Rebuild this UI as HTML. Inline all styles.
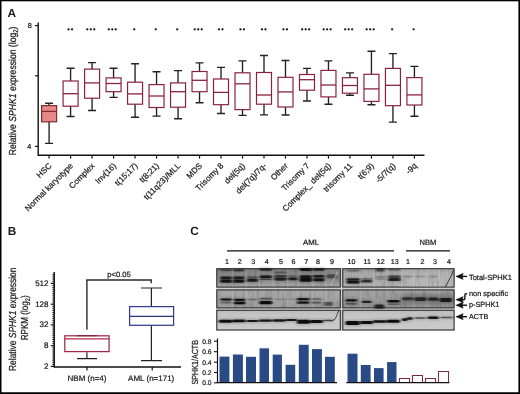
<!DOCTYPE html>
<html><head><meta charset="utf-8"><style>
html,body{margin:0;padding:0;background:#fff;}
body{width:520px;height:394px;overflow:hidden;position:relative;}
svg{position:absolute;left:0;top:0;will-change:transform;}
svg text{font-family:"Liberation Sans", sans-serif;text-rendering:geometricPrecision;fill:#1a1a1a;stroke:#1a1a1a;stroke-width:0.22px;}
</style></head><body>
<svg width="520" height="394" viewBox="0 0 520 394">
<rect x="0" y="0" width="520" height="394" fill="#fff"/>
<text x="7.5" y="16.9" font-size="11.8" font-weight="bold" style="stroke-width:0">A</text>
<text x="7.7" y="235.1" font-size="11.8" font-weight="bold" style="stroke-width:0">B</text>
<text x="190.2" y="235" font-size="11.8" font-weight="bold" style="stroke-width:0">C</text>
<path d="M38.2 22.5V155.3H424.5" fill="none" stroke="#111" stroke-width="1.4"/>
<path d="M35 25.6H38.2" stroke="#111" stroke-width="1.2"/>
<path d="M35 75.8H38.2" stroke="#111" stroke-width="1.2"/>
<path d="M35 146.4H38.2" stroke="#111" stroke-width="1.2"/>
<text x="31.7" y="28.2" font-size="7.2" text-anchor="end">8</text>
<text x="31.3" y="148.9" font-size="7.2" text-anchor="end">4</text>
<path d="M49.10 155.3V158.6" stroke="#111" stroke-width="1.2"/>
<path d="M49.10 103.2V105.6M49.10 121.8V143.4M45.10 103.2H53.10M45.10 143.4H53.10" stroke="#222" stroke-width="1.35" fill="none"/>
<rect x="41.60" y="105.6" width="15.0" height="16.20" fill="#e58a88" stroke="#862a2c" stroke-width="1.2"/>
<path d="M41.60 111.4H56.60" stroke="#862a2c" stroke-width="1.3"/>
<text transform="translate(52.10,166.3) rotate(-45)" font-size="8.2" text-anchor="end">HSC</text>
<path d="M70.59 155.3V158.6" stroke="#111" stroke-width="1.2"/>
<path d="M70.59 68.2V81M70.59 106.2V116.5M66.59 68.2H74.59M66.59 116.5H74.59" stroke="#222" stroke-width="1.35" fill="none"/>
<rect x="63.09" y="81" width="15.0" height="25.20" fill="none" stroke="#88223f" stroke-width="1.2"/>
<path d="M63.09 93.7H78.09" stroke="#88223f" stroke-width="1.3"/>
<circle cx="68.54" cy="29.3" r="1.15" fill="#111"/>
<circle cx="72.04" cy="29.3" r="1.15" fill="#111"/>
<text transform="translate(73.59,166.3) rotate(-45)" font-size="8.2" text-anchor="end">Normal karyotype</text>
<path d="M92.08 155.3V158.6" stroke="#111" stroke-width="1.2"/>
<path d="M92.08 62.6V69.1M92.08 98.2V110.5M88.08 62.6H96.08M88.08 110.5H96.08" stroke="#222" stroke-width="1.35" fill="none"/>
<rect x="84.58" y="69.1" width="15.0" height="29.10" fill="none" stroke="#88223f" stroke-width="1.2"/>
<path d="M84.58 82.9H99.58" stroke="#88223f" stroke-width="1.3"/>
<circle cx="87.28" cy="29.3" r="1.15" fill="#111"/>
<circle cx="90.78" cy="29.3" r="1.15" fill="#111"/>
<circle cx="94.28" cy="29.3" r="1.15" fill="#111"/>
<text transform="translate(95.08,166.3) rotate(-45)" font-size="8.2" text-anchor="end">Complex</text>
<path d="M113.57 155.3V158.6" stroke="#111" stroke-width="1.2"/>
<path d="M113.57 68.2V77.9M113.57 91.7V97.3M109.57 68.2H117.57M109.57 97.3H117.57" stroke="#222" stroke-width="1.35" fill="none"/>
<rect x="106.07" y="77.9" width="15.0" height="13.80" fill="none" stroke="#88223f" stroke-width="1.2"/>
<path d="M106.07 83.5H121.07" stroke="#88223f" stroke-width="1.3"/>
<circle cx="108.77" cy="29.3" r="1.15" fill="#111"/>
<circle cx="112.27" cy="29.3" r="1.15" fill="#111"/>
<circle cx="115.77" cy="29.3" r="1.15" fill="#111"/>
<text transform="translate(116.57,166.3) rotate(-45)" font-size="8.2" text-anchor="end">Inv(16)</text>
<path d="M135.06 155.3V158.6" stroke="#111" stroke-width="1.2"/>
<path d="M135.06 63.7V82.2M135.06 104.2V117.2M131.06 63.7H139.06M131.06 117.2H139.06" stroke="#222" stroke-width="1.35" fill="none"/>
<rect x="127.56" y="82.2" width="15.0" height="22.00" fill="none" stroke="#88223f" stroke-width="1.2"/>
<path d="M127.56 93.9H142.56" stroke="#88223f" stroke-width="1.3"/>
<circle cx="134.26" cy="29.3" r="1.15" fill="#111"/>
<text transform="translate(138.06,166.3) rotate(-45)" font-size="8.2" text-anchor="end">t(15;17)</text>
<path d="M156.55 155.3V158.6" stroke="#111" stroke-width="1.2"/>
<path d="M156.55 71.7V84.6M156.55 107.5V116.1M152.55 71.7H160.55M152.55 116.1H160.55" stroke="#222" stroke-width="1.35" fill="none"/>
<rect x="149.05" y="84.6" width="15.0" height="22.90" fill="none" stroke="#88223f" stroke-width="1.2"/>
<path d="M149.05 96H164.05" stroke="#88223f" stroke-width="1.3"/>
<circle cx="155.75" cy="29.3" r="1.15" fill="#111"/>
<text transform="translate(159.55,166.3) rotate(-45)" font-size="8.2" text-anchor="end">t(8;21)</text>
<path d="M178.04 155.3V158.6" stroke="#111" stroke-width="1.2"/>
<path d="M178.04 70.6V82.9M178.04 107.2V118.7M174.04 70.6H182.04M174.04 118.7H182.04" stroke="#222" stroke-width="1.35" fill="none"/>
<rect x="170.54" y="82.9" width="15.0" height="24.30" fill="none" stroke="#88223f" stroke-width="1.2"/>
<path d="M170.54 91.7H185.54" stroke="#88223f" stroke-width="1.3"/>
<circle cx="177.24" cy="29.3" r="1.15" fill="#111"/>
<text transform="translate(181.04,166.3) rotate(-45)" font-size="8.2" text-anchor="end">t(11q23)/MLL</text>
<path d="M199.53 155.3V158.6" stroke="#111" stroke-width="1.2"/>
<path d="M199.53 62.8V71.5M199.53 91.7V102.7M195.53 62.8H203.53M195.53 102.7H203.53" stroke="#222" stroke-width="1.35" fill="none"/>
<rect x="192.03" y="71.5" width="15.0" height="20.20" fill="none" stroke="#88223f" stroke-width="1.2"/>
<path d="M192.03 80.3H207.03" stroke="#88223f" stroke-width="1.3"/>
<circle cx="194.73" cy="29.3" r="1.15" fill="#111"/>
<circle cx="198.23" cy="29.3" r="1.15" fill="#111"/>
<circle cx="201.73" cy="29.3" r="1.15" fill="#111"/>
<text transform="translate(202.53,166.3) rotate(-45)" font-size="8.2" text-anchor="end">MDS</text>
<path d="M221.02 155.3V158.6" stroke="#111" stroke-width="1.2"/>
<path d="M221.02 67.4V79M221.02 104.7V113.5M217.02 67.4H225.02M217.02 113.5H225.02" stroke="#222" stroke-width="1.35" fill="none"/>
<rect x="213.52" y="79" width="15.0" height="25.70" fill="none" stroke="#88223f" stroke-width="1.2"/>
<path d="M213.52 92.4H228.52" stroke="#88223f" stroke-width="1.3"/>
<circle cx="218.97" cy="29.3" r="1.15" fill="#111"/>
<circle cx="222.47" cy="29.3" r="1.15" fill="#111"/>
<text transform="translate(224.02,166.3) rotate(-45)" font-size="8.2" text-anchor="end">Trisomy 8</text>
<path d="M242.51 155.3V158.6" stroke="#111" stroke-width="1.2"/>
<path d="M242.51 60.9V72.8M242.51 109.6V115.4M238.51 60.9H246.51M238.51 115.4H246.51" stroke="#222" stroke-width="1.35" fill="none"/>
<rect x="235.01" y="72.8" width="15.0" height="36.80" fill="none" stroke="#88223f" stroke-width="1.2"/>
<path d="M235.01 83.8H250.01" stroke="#88223f" stroke-width="1.3"/>
<circle cx="240.46" cy="29.3" r="1.15" fill="#111"/>
<circle cx="243.96" cy="29.3" r="1.15" fill="#111"/>
<text transform="translate(245.51,166.3) rotate(-45)" font-size="8.2" text-anchor="end">del(5q)</text>
<path d="M264.00 155.3V158.6" stroke="#111" stroke-width="1.2"/>
<path d="M264.00 55.5V72.5M264.00 104.2V114.8M260.00 55.5H268.00M260.00 114.8H268.00" stroke="#222" stroke-width="1.35" fill="none"/>
<rect x="256.50" y="72.5" width="15.0" height="31.70" fill="none" stroke="#88223f" stroke-width="1.2"/>
<path d="M256.50 95H271.50" stroke="#88223f" stroke-width="1.3"/>
<circle cx="261.95" cy="29.3" r="1.15" fill="#111"/>
<circle cx="265.45" cy="29.3" r="1.15" fill="#111"/>
<text transform="translate(267.00,166.3) rotate(-45)" font-size="8.2" text-anchor="end">del(7q)/7q-</text>
<path d="M285.49 155.3V158.6" stroke="#111" stroke-width="1.2"/>
<path d="M285.49 60.5V77.3M285.49 107V115M281.49 60.5H289.49M281.49 115H289.49" stroke="#222" stroke-width="1.35" fill="none"/>
<rect x="277.99" y="77.3" width="15.0" height="29.70" fill="none" stroke="#88223f" stroke-width="1.2"/>
<path d="M277.99 91.9H292.99" stroke="#88223f" stroke-width="1.3"/>
<circle cx="283.44" cy="29.3" r="1.15" fill="#111"/>
<circle cx="286.94" cy="29.3" r="1.15" fill="#111"/>
<text transform="translate(288.49,166.3) rotate(-45)" font-size="8.2" text-anchor="end">Other</text>
<path d="M306.98 155.3V158.6" stroke="#111" stroke-width="1.2"/>
<path d="M306.98 68.4V74.5M306.98 90.2V101M302.98 68.4H310.98M302.98 101H310.98" stroke="#222" stroke-width="1.35" fill="none"/>
<rect x="299.48" y="74.5" width="15.0" height="15.70" fill="none" stroke="#88223f" stroke-width="1.2"/>
<path d="M299.48 79.7H314.48" stroke="#88223f" stroke-width="1.3"/>
<circle cx="302.18" cy="29.3" r="1.15" fill="#111"/>
<circle cx="305.68" cy="29.3" r="1.15" fill="#111"/>
<circle cx="309.18" cy="29.3" r="1.15" fill="#111"/>
<text transform="translate(309.98,166.3) rotate(-45)" font-size="8.2" text-anchor="end">Trisomy 7</text>
<path d="M328.47 155.3V158.6" stroke="#111" stroke-width="1.2"/>
<path d="M328.47 60.9V70.4M328.47 96.9V104.2M324.47 60.9H332.47M324.47 104.2H332.47" stroke="#222" stroke-width="1.35" fill="none"/>
<rect x="320.97" y="70.4" width="15.0" height="26.50" fill="none" stroke="#88223f" stroke-width="1.2"/>
<path d="M320.97 85H335.97" stroke="#88223f" stroke-width="1.3"/>
<circle cx="323.67" cy="29.3" r="1.15" fill="#111"/>
<circle cx="327.17" cy="29.3" r="1.15" fill="#111"/>
<circle cx="330.67" cy="29.3" r="1.15" fill="#111"/>
<text transform="translate(331.47,166.3) rotate(-45)" font-size="8.2" text-anchor="end">Complex_ del(5q)</text>
<path d="M349.96 155.3V158.6" stroke="#111" stroke-width="1.2"/>
<path d="M349.96 72.8V77.7M349.96 93.2V95.2M345.96 72.8H353.96M345.96 95.2H353.96" stroke="#222" stroke-width="1.35" fill="none"/>
<rect x="342.46" y="77.7" width="15.0" height="15.50" fill="none" stroke="#88223f" stroke-width="1.2"/>
<path d="M342.46 85.5H357.46" stroke="#88223f" stroke-width="1.3"/>
<circle cx="345.16" cy="29.3" r="1.15" fill="#111"/>
<circle cx="348.66" cy="29.3" r="1.15" fill="#111"/>
<circle cx="352.16" cy="29.3" r="1.15" fill="#111"/>
<text transform="translate(352.96,166.3) rotate(-45)" font-size="8.2" text-anchor="end">trisomy 11</text>
<path d="M371.45 155.3V158.6" stroke="#111" stroke-width="1.2"/>
<path d="M371.45 51.2V74.3M371.45 101.4V104.7M367.45 51.2H375.45M367.45 104.7H375.45" stroke="#222" stroke-width="1.35" fill="none"/>
<rect x="363.95" y="74.3" width="15.0" height="27.10" fill="none" stroke="#88223f" stroke-width="1.2"/>
<path d="M363.95 88.9H378.95" stroke="#88223f" stroke-width="1.3"/>
<circle cx="366.65" cy="29.3" r="1.15" fill="#111"/>
<circle cx="370.15" cy="29.3" r="1.15" fill="#111"/>
<circle cx="373.65" cy="29.3" r="1.15" fill="#111"/>
<text transform="translate(374.45,166.3) rotate(-45)" font-size="8.2" text-anchor="end">t(6;9)</text>
<path d="M392.94 155.3V158.6" stroke="#111" stroke-width="1.2"/>
<path d="M392.94 53.6V68.4M392.94 105.7V122.1M388.94 53.6H396.94M388.94 122.1H396.94" stroke="#222" stroke-width="1.35" fill="none"/>
<rect x="385.44" y="68.4" width="15.0" height="37.30" fill="none" stroke="#88223f" stroke-width="1.2"/>
<path d="M385.44 85.3H400.44" stroke="#88223f" stroke-width="1.3"/>
<circle cx="392.14" cy="29.3" r="1.15" fill="#111"/>
<text transform="translate(395.94,166.3) rotate(-45)" font-size="8.2" text-anchor="end">-5/7(q)</text>
<path d="M414.43 155.3V158.6" stroke="#111" stroke-width="1.2"/>
<path d="M414.43 66.3V77.6M414.43 105V116.2M410.43 66.3H418.43M410.43 116.2H418.43" stroke="#222" stroke-width="1.35" fill="none"/>
<rect x="406.93" y="77.6" width="15.0" height="27.40" fill="none" stroke="#88223f" stroke-width="1.2"/>
<path d="M406.93 94.9H421.93" stroke="#88223f" stroke-width="1.3"/>
<circle cx="413.63" cy="29.3" r="1.15" fill="#111"/>
<text transform="translate(417.43,166.3) rotate(-45)" font-size="8.2" text-anchor="end">-9q</text>
<text transform="translate(15.8,155.2) rotate(-90)" font-size="10.2" textLength="128.6" lengthAdjust="spacingAndGlyphs">Relative <tspan font-style="italic">SPHK1</tspan> expression (log<tspan font-size="7" dy="2">2</tspan><tspan dy="-2">)</tspan></text>
<path d="M54.2 272V367H181" fill="none" stroke="#111" stroke-width="1.5"/>
<path d="M52.3 285.48H54.3" stroke="#111" stroke-width="0.9"/>
<path d="M52.3 287.56H54.3" stroke="#111" stroke-width="0.9"/>
<path d="M52.3 289.64H54.3" stroke="#111" stroke-width="0.9"/>
<path d="M52.3 291.72H54.3" stroke="#111" stroke-width="0.9"/>
<path d="M52.3 293.80H54.3" stroke="#111" stroke-width="0.9"/>
<path d="M52.3 295.88H54.3" stroke="#111" stroke-width="0.9"/>
<path d="M52.3 297.96H54.3" stroke="#111" stroke-width="0.9"/>
<path d="M52.3 300.04H54.3" stroke="#111" stroke-width="0.9"/>
<path d="M52.3 302.12H54.3" stroke="#111" stroke-width="0.9"/>
<path d="M52.3 306.27H54.3" stroke="#111" stroke-width="0.9"/>
<path d="M52.3 308.34H54.3" stroke="#111" stroke-width="0.9"/>
<path d="M52.3 310.41H54.3" stroke="#111" stroke-width="0.9"/>
<path d="M52.3 312.48H54.3" stroke="#111" stroke-width="0.9"/>
<path d="M52.3 314.55H54.3" stroke="#111" stroke-width="0.9"/>
<path d="M52.3 316.62H54.3" stroke="#111" stroke-width="0.9"/>
<path d="M52.3 318.69H54.3" stroke="#111" stroke-width="0.9"/>
<path d="M52.3 320.76H54.3" stroke="#111" stroke-width="0.9"/>
<path d="M52.3 322.83H54.3" stroke="#111" stroke-width="0.9"/>
<path d="M52.3 326.98H54.3" stroke="#111" stroke-width="0.9"/>
<path d="M52.3 329.06H54.3" stroke="#111" stroke-width="0.9"/>
<path d="M52.3 331.14H54.3" stroke="#111" stroke-width="0.9"/>
<path d="M52.3 333.22H54.3" stroke="#111" stroke-width="0.9"/>
<path d="M52.3 335.30H54.3" stroke="#111" stroke-width="0.9"/>
<path d="M52.3 337.38H54.3" stroke="#111" stroke-width="0.9"/>
<path d="M52.3 339.46H54.3" stroke="#111" stroke-width="0.9"/>
<path d="M52.3 341.54H54.3" stroke="#111" stroke-width="0.9"/>
<path d="M52.3 343.62H54.3" stroke="#111" stroke-width="0.9"/>
<path d="M52.3 347.77H54.3" stroke="#111" stroke-width="0.9"/>
<path d="M52.3 349.84H54.3" stroke="#111" stroke-width="0.9"/>
<path d="M52.3 351.91H54.3" stroke="#111" stroke-width="0.9"/>
<path d="M52.3 353.98H54.3" stroke="#111" stroke-width="0.9"/>
<path d="M52.3 356.05H54.3" stroke="#111" stroke-width="0.9"/>
<path d="M52.3 358.12H54.3" stroke="#111" stroke-width="0.9"/>
<path d="M52.3 360.19H54.3" stroke="#111" stroke-width="0.9"/>
<path d="M52.3 362.26H54.3" stroke="#111" stroke-width="0.9"/>
<path d="M52.3 364.33H54.3" stroke="#111" stroke-width="0.9"/>
<path d="M52.3 274.68H54.3" stroke="#111" stroke-width="0.9"/>
<path d="M52.3 276.86H54.3" stroke="#111" stroke-width="0.9"/>
<path d="M52.3 279.04H54.3" stroke="#111" stroke-width="0.9"/>
<path d="M52.3 281.22H54.3" stroke="#111" stroke-width="0.9"/>
<path d="M50.8 283.4H54.3" stroke="#111" stroke-width="1.2"/>
<text x="48.5" y="285.8" font-size="8" text-anchor="end">512</text>
<path d="M50.8 304.2H54.3" stroke="#111" stroke-width="1.2"/>
<text x="48.5" y="306.6" font-size="8" text-anchor="end">128</text>
<path d="M50.8 324.9H54.3" stroke="#111" stroke-width="1.2"/>
<text x="48.5" y="327.3" font-size="8" text-anchor="end">32</text>
<path d="M50.8 345.7H54.3" stroke="#111" stroke-width="1.2"/>
<text x="48.5" y="348.1" font-size="8" text-anchor="end">8</text>
<path d="M50.8 366.4H54.3" stroke="#111" stroke-width="1.2"/>
<text x="48.5" y="368.8" font-size="8" text-anchor="end">2</text>
<path d="M87 367V370.5" stroke="#111" stroke-width="1.2"/>
<path d="M152.2 367V370.5" stroke="#111" stroke-width="1.2"/>
<text x="87" y="381.3" font-size="8" text-anchor="middle">NBM (n=4)</text>
<text x="151.2" y="381.3" font-size="8" text-anchor="middle">AML (n=171)</text>
<path d="M86.9 335.6V336.2M86.9 352.3V358.6M77 358.6H97M77 335.6H97" stroke="#222" stroke-width="1.2"/>
<rect x="64.8" y="335.8" width="44.3" height="15.8" fill="none" stroke="#a02846" stroke-width="1.25"/>
<path d="M64.8 338.9H109.1" stroke="#b02a48" stroke-width="1.4"/>
<path d="M151.4 288V306.6M151.4 325.3V360.7M141 288H162M141 360.7H162" stroke="#222" stroke-width="1.2"/>
<rect x="129.6" y="306.6" width="44" height="18.7" fill="none" stroke="#2f3f8c" stroke-width="1.25"/>
<path d="M129.6 316.4H173.6" stroke="#2a3478" stroke-width="1.4"/>
<path d="M86.9 329.8V280H151.2V283.2" fill="none" stroke="#2a2a2a" stroke-width="1.4"/>
<text x="119.1" y="276.6" font-size="7.6" text-anchor="middle">p&lt;0.05</text>
<text transform="translate(15.6,371) rotate(-90)" font-size="10.2" textLength="103.5" lengthAdjust="spacingAndGlyphs">Relative <tspan font-style="italic">SPHK1</tspan> expression</text>
<text transform="translate(27.8,340.3) rotate(-90)" font-size="10.2" textLength="45" lengthAdjust="spacingAndGlyphs">RPKM (log<tspan font-size="7" dy="2">2</tspan><tspan dy="-2">)</tspan></text>
<text x="311" y="244.5" font-size="7.8" text-anchor="middle">AML</text>
<text x="428" y="244.5" font-size="7.6" text-anchor="middle">NBM</text>
<path d="M227 250.9H394M406 250.9H450" stroke="#111" stroke-width="1.1"/>
<text x="227" y="264.4" font-size="7.1" text-anchor="middle">1</text>
<text x="239.8" y="264.4" font-size="7.1" text-anchor="middle">2</text>
<text x="253.3" y="264.4" font-size="7.1" text-anchor="middle">3</text>
<text x="266.8" y="264.4" font-size="7.1" text-anchor="middle">4</text>
<text x="281.1" y="264.4" font-size="7.1" text-anchor="middle">5</text>
<text x="293.5" y="264.4" font-size="7.1" text-anchor="middle">6</text>
<text x="306.2" y="264.4" font-size="7.1" text-anchor="middle">7</text>
<text x="318" y="264.4" font-size="7.1" text-anchor="middle">8</text>
<text x="332.1" y="264.4" font-size="7.1" text-anchor="middle">9</text>
<text x="351.5" y="264.4" font-size="7.1" text-anchor="middle">10</text>
<text x="367.3" y="264.4" font-size="7.1" text-anchor="middle">11</text>
<text x="380.7" y="264.4" font-size="7.1" text-anchor="middle">12</text>
<text x="394.8" y="264.4" font-size="7.1" text-anchor="middle">13</text>
<text x="407.9" y="264.4" font-size="7.1" text-anchor="middle">1</text>
<text x="422.6" y="264.4" font-size="7.1" text-anchor="middle">2</text>
<text x="435" y="264.4" font-size="7.1" text-anchor="middle">3</text>
<text x="448.9" y="264.4" font-size="7.1" text-anchor="middle">4</text>
<defs><filter id="bl" x="-20%" y="-100%" width="140%" height="300%"><feGaussianBlur stdDeviation="1.1 0.75"/></filter><filter id="bl2" x="-20%" y="-100%" width="140%" height="300%"><feGaussianBlur stdDeviation="1.6 1.2"/></filter><linearGradient id="g1" x1="0" y1="0" x2="0" y2="1"><stop offset="0" stop-color="#7e7e7e"/><stop offset="0.2" stop-color="#939393"/><stop offset="0.8" stop-color="#9c9c9c"/><stop offset="1" stop-color="#a6a6a6"/></linearGradient><linearGradient id="g1b" x1="0" y1="0" x2="0" y2="1"><stop offset="0" stop-color="#9a9a9a"/><stop offset="0.3" stop-color="#acacac"/><stop offset="1" stop-color="#b0b0b0"/></linearGradient><linearGradient id="g2" x1="0" y1="0" x2="0" y2="1"><stop offset="0" stop-color="#a8a8a8"/><stop offset="0.3" stop-color="#a6a6a6"/><stop offset="1" stop-color="#9c9c9c"/></linearGradient><linearGradient id="g2b" x1="0" y1="0" x2="0" y2="1"><stop offset="0" stop-color="#a2a2a2"/><stop offset="1" stop-color="#929292"/></linearGradient><linearGradient id="g3" x1="0" y1="0" x2="0" y2="1"><stop offset="0" stop-color="#bcbcbc"/><stop offset="0.3" stop-color="#c6c6c6"/><stop offset="1" stop-color="#cacaca"/></linearGradient></defs>
<rect x="216.3" y="268.2" width="238.3" height="62.3" fill="#d0d0d0"/>
<rect x="216.8" y="268.7" width="123.5" height="18.4" fill="url(#g1)" stroke="#2e2e2e" stroke-width="1.1"/>
<rect x="216.8" y="289.9" width="123.5" height="18.0" fill="url(#g2)" stroke="#2e2e2e" stroke-width="1.1"/>
<rect x="216.8" y="310.3" width="123.5" height="19.7" fill="url(#g3)" stroke="#2e2e2e" stroke-width="1.1"/>
<rect x="342.8" y="268.7" width="111.3" height="18.4" fill="url(#g1b)" stroke="#2e2e2e" stroke-width="1.1"/>
<rect x="342.8" y="289.9" width="111.3" height="18.0" fill="url(#g2b)" stroke="#2e2e2e" stroke-width="1.1"/>
<rect x="342.8" y="310.3" width="111.3" height="19.7" fill="url(#g3)" stroke="#2e2e2e" stroke-width="1.1"/>
<filter id="nz" x="0" y="0" width="100%" height="100%"><feTurbulence type="fractalNoise" baseFrequency="0.35 0.08" numOctaves="2" seed="7"/><feColorMatrix type="matrix" values="0 0 0 0 0  0 0 0 0 0  0 0 0 0 0  0 0 0 -1.6 0.85"/></filter>
<g opacity="0.22">
<rect x="217.5" y="269.4" width="122.1" height="17.0" filter="url(#nz)"/>
<rect x="217.5" y="290.59999999999997" width="122.1" height="16.6" filter="url(#nz)"/>
<rect x="343.5" y="269.4" width="109.9" height="17.0" filter="url(#nz)"/>
<rect x="343.5" y="290.59999999999997" width="109.9" height="16.6" filter="url(#nz)"/>
</g>
<rect x="231.9" y="269.5" width="1.2" height="17.5" fill="#fff" fill-opacity="0.16"/>
<rect x="231.9" y="290.5" width="1.2" height="17" fill="#fff" fill-opacity="0.12"/>
<rect x="245.4" y="269.5" width="1.2" height="17.5" fill="#fff" fill-opacity="0.16"/>
<rect x="245.4" y="290.5" width="1.2" height="17" fill="#fff" fill-opacity="0.12"/>
<rect x="258.4" y="269.5" width="1.2" height="17.5" fill="#fff" fill-opacity="0.16"/>
<rect x="258.4" y="290.5" width="1.2" height="17" fill="#fff" fill-opacity="0.12"/>
<rect x="272.4" y="269.5" width="1.2" height="17.5" fill="#fff" fill-opacity="0.16"/>
<rect x="272.4" y="290.5" width="1.2" height="17" fill="#fff" fill-opacity="0.12"/>
<rect x="286.9" y="269.5" width="1.2" height="17.5" fill="#fff" fill-opacity="0.16"/>
<rect x="286.9" y="290.5" width="1.2" height="17" fill="#fff" fill-opacity="0.12"/>
<rect x="298.4" y="269.5" width="1.2" height="17.5" fill="#fff" fill-opacity="0.16"/>
<rect x="298.4" y="290.5" width="1.2" height="17" fill="#fff" fill-opacity="0.12"/>
<rect x="311.9" y="269.5" width="1.2" height="17.5" fill="#fff" fill-opacity="0.16"/>
<rect x="311.9" y="290.5" width="1.2" height="17" fill="#fff" fill-opacity="0.12"/>
<rect x="324.9" y="269.5" width="1.2" height="17.5" fill="#fff" fill-opacity="0.16"/>
<rect x="324.9" y="290.5" width="1.2" height="17" fill="#fff" fill-opacity="0.12"/>
<rect x="359.9" y="269.5" width="1.2" height="17.5" fill="#fff" fill-opacity="0.16"/>
<rect x="359.9" y="290.5" width="1.2" height="17" fill="#fff" fill-opacity="0.12"/>
<rect x="373.4" y="269.5" width="1.2" height="17.5" fill="#fff" fill-opacity="0.16"/>
<rect x="373.4" y="290.5" width="1.2" height="17" fill="#fff" fill-opacity="0.12"/>
<rect x="386.4" y="269.5" width="1.2" height="17.5" fill="#fff" fill-opacity="0.16"/>
<rect x="386.4" y="290.5" width="1.2" height="17" fill="#fff" fill-opacity="0.12"/>
<rect x="400.9" y="269.5" width="1.2" height="17.5" fill="#fff" fill-opacity="0.16"/>
<rect x="400.9" y="290.5" width="1.2" height="17" fill="#fff" fill-opacity="0.12"/>
<rect x="413.4" y="269.5" width="1.2" height="17.5" fill="#fff" fill-opacity="0.16"/>
<rect x="413.4" y="290.5" width="1.2" height="17" fill="#fff" fill-opacity="0.12"/>
<rect x="426.4" y="269.5" width="1.2" height="17.5" fill="#fff" fill-opacity="0.16"/>
<rect x="426.4" y="290.5" width="1.2" height="17" fill="#fff" fill-opacity="0.12"/>
<rect x="438.9" y="269.5" width="1.2" height="17.5" fill="#fff" fill-opacity="0.16"/>
<rect x="438.9" y="290.5" width="1.2" height="17" fill="#fff" fill-opacity="0.12"/>
<rect x="401" y="269" width="52.5" height="18" fill="#fff" fill-opacity="0.1"/>
<g filter="url(#bl2)">
<rect x="402" y="293.5" width="50" height="11" fill="#333" fill-opacity="0.25"/>
<rect x="218" y="270" width="120" height="12" fill="#333" fill-opacity="0.12"/>
<rect x="220.2" y="268.70" width="11.7" height="3.20" fill="#202020" fill-opacity="0.11"/>
<rect x="220.2" y="275.80" width="11.7" height="4.20" fill="#202020" fill-opacity="0.21"/>
<rect x="220.2" y="278.80" width="11.7" height="4.60" fill="#202020" fill-opacity="0.24"/>
<rect x="233.2" y="268.55" width="11.2" height="3.50" fill="#202020" fill-opacity="0.17"/>
<rect x="233.2" y="275.80" width="11.2" height="4.20" fill="#202020" fill-opacity="0.21"/>
<rect x="233.2" y="278.80" width="11.2" height="4.60" fill="#202020" fill-opacity="0.24"/>
<rect x="247.0" y="275.40" width="10.8" height="3.60" fill="#202020" fill-opacity="0.09"/>
<rect x="247.0" y="278.00" width="10.8" height="4.60" fill="#202020" fill-opacity="0.23"/>
<rect x="259.7" y="267.50" width="12.1" height="4.00" fill="#202020" fill-opacity="0.19"/>
<rect x="259.7" y="274.70" width="12.1" height="4.20" fill="#202020" fill-opacity="0.23"/>
<rect x="259.7" y="277.55" width="12.1" height="3.30" fill="#202020" fill-opacity="0.11"/>
<rect x="274.4" y="270.75" width="12.1" height="3.50" fill="#202020" fill-opacity="0.07"/>
<rect x="274.4" y="274.30" width="12.1" height="3.80" fill="#202020" fill-opacity="0.15"/>
<rect x="274.4" y="276.80" width="12.1" height="4.40" fill="#202020" fill-opacity="0.21"/>
<rect x="288.3" y="274.35" width="8.7" height="3.30" fill="#202020" fill-opacity="0.07"/>
<rect x="288.3" y="276.65" width="9.2" height="4.30" fill="#202020" fill-opacity="0.21"/>
<rect x="299.7" y="267.25" width="12.1" height="4.50" fill="#202020" fill-opacity="0.23"/>
<rect x="299.7" y="274.55" width="12.1" height="4.50" fill="#202020" fill-opacity="0.23"/>
<rect x="299.7" y="277.10" width="12.1" height="5.40" fill="#202020" fill-opacity="0.25"/>
<rect x="313.1" y="267.40" width="11.3" height="4.20" fill="#202020" fill-opacity="0.21"/>
<rect x="313.1" y="274.30" width="11.3" height="4.00" fill="#202020" fill-opacity="0.21"/>
<rect x="313.1" y="277.45" width="11.3" height="4.50" fill="#202020" fill-opacity="0.24"/>
<rect x="326.5" y="273.75" width="10.0" height="3.50" fill="#202020" fill-opacity="0.12"/>
<rect x="326.5" y="275.65" width="10.0" height="3.50" fill="#202020" fill-opacity="0.12"/>
<rect x="346.6" y="269.20" width="13.0" height="3.20" fill="#202020" fill-opacity="0.07"/>
<rect x="346.6" y="277.40" width="13.0" height="4.00" fill="#202020" fill-opacity="0.21"/>
<rect x="346.6" y="279.75" width="13.0" height="4.50" fill="#202020" fill-opacity="0.24"/>
<rect x="361.3" y="277.30" width="10.8" height="3.40" fill="#202020" fill-opacity="0.09"/>
<rect x="361.3" y="279.20" width="10.8" height="4.00" fill="#202020" fill-opacity="0.19"/>
<rect x="376.0" y="267.60" width="8.5" height="4.60" fill="#202020" fill-opacity="0.15"/>
<rect x="375.5" y="275.10" width="10.3" height="3.40" fill="#202020" fill-opacity="0.05"/>
<rect x="375.5" y="277.30" width="10.3" height="3.40" fill="#202020" fill-opacity="0.05"/>
<rect x="388.0" y="268.40" width="12.5" height="3.20" fill="#202020" fill-opacity="0.07"/>
<rect x="388.0" y="274.60" width="12.5" height="4.00" fill="#202020" fill-opacity="0.16"/>
<rect x="388.0" y="277.15" width="12.5" height="4.50" fill="#202020" fill-opacity="0.21"/>
<rect x="403.0" y="274.70" width="9.7" height="3.60" fill="#202020" fill-opacity="0.04"/>
<rect x="415.0" y="274.70" width="10.0" height="3.60" fill="#202020" fill-opacity="0.04"/>
<rect x="428.0" y="274.70" width="10.0" height="3.60" fill="#202020" fill-opacity="0.04"/>
<rect x="220.6" y="297.70" width="11.3" height="3.60" fill="#202020" fill-opacity="0.24"/>
<rect x="220.6" y="300.90" width="11.3" height="3.40" fill="#202020" fill-opacity="0.07"/>
<rect x="234.0" y="297.90" width="11.3" height="3.80" fill="#202020" fill-opacity="0.24"/>
<rect x="234.0" y="300.90" width="11.3" height="4.20" fill="#202020" fill-opacity="0.25"/>
<rect x="247.9" y="297.90" width="9.5" height="3.20" fill="#202020" fill-opacity="0.07"/>
<rect x="259.3" y="296.95" width="13.0" height="3.50" fill="#202020" fill-opacity="0.10"/>
<rect x="259.3" y="300.30" width="13.0" height="4.60" fill="#202020" fill-opacity="0.25"/>
<rect x="274.5" y="297.70" width="11.5" height="3.20" fill="#202020" fill-opacity="0.04"/>
<rect x="287.0" y="297.70" width="9.0" height="3.20" fill="#202020" fill-opacity="0.03"/>
<rect x="297.0" y="297.10" width="12.2" height="4.00" fill="#202020" fill-opacity="0.24"/>
<rect x="297.0" y="300.60" width="12.2" height="4.00" fill="#202020" fill-opacity="0.24"/>
<rect x="311.0" y="297.35" width="10.4" height="3.30" fill="#202020" fill-opacity="0.09"/>
<rect x="311.0" y="300.85" width="10.4" height="3.50" fill="#202020" fill-opacity="0.11"/>
<rect x="324.0" y="301.40" width="8.6" height="5.00" fill="#202020" fill-opacity="0.12"/>
<rect x="345.8" y="298.40" width="11.2" height="4.00" fill="#202020" fill-opacity="0.25"/>
<rect x="345.8" y="302.15" width="11.2" height="3.50" fill="#202020" fill-opacity="0.09"/>
<rect x="361.8" y="299.90" width="9.5" height="4.00" fill="#202020" fill-opacity="0.21"/>
<rect x="374.3" y="303.90" width="10.0" height="5.20" fill="#202020" fill-opacity="0.20"/>
<rect x="387.5" y="299.30" width="12.1" height="4.00" fill="#202020" fill-opacity="0.25"/>
<rect x="387.5" y="302.70" width="12.1" height="3.20" fill="#202020" fill-opacity="0.07"/>
<rect x="401.7" y="296.45" width="11.7" height="4.50" fill="#202020" fill-opacity="0.16"/>
<rect x="414.6" y="296.60" width="11.7" height="5.00" fill="#202020" fill-opacity="0.20"/>
<rect x="428.0" y="296.80" width="10.4" height="4.60" fill="#202020" fill-opacity="0.20"/>
<rect x="439.7" y="297.30" width="12.1" height="5.40" fill="#202020" fill-opacity="0.23"/>
<rect x="218.7" y="318.70" width="13.8" height="5.00" fill="#202020" fill-opacity="0.25"/>
<rect x="232.5" y="318.60" width="13.0" height="4.60" fill="#202020" fill-opacity="0.25"/>
<rect x="246.5" y="318.90" width="12.0" height="4.20" fill="#202020" fill-opacity="0.24"/>
<rect x="259.0" y="318.40" width="13.0" height="4.40" fill="#202020" fill-opacity="0.24"/>
<rect x="272.5" y="318.25" width="13.0" height="4.50" fill="#202020" fill-opacity="0.24"/>
<rect x="285.5" y="317.90" width="11.5" height="4.20" fill="#202020" fill-opacity="0.24"/>
<rect x="297.0" y="318.80" width="13.0" height="6.00" fill="#202020" fill-opacity="0.25"/>
<rect x="310.0" y="319.00" width="13.0" height="5.00" fill="#202020" fill-opacity="0.25"/>
<rect x="323.0" y="318.70" width="10.0" height="3.60" fill="#202020" fill-opacity="0.17"/>
<rect x="345.5" y="320.00" width="14.2" height="6.00" fill="#202020" fill-opacity="0.25"/>
<rect x="360.0" y="319.90" width="13.0" height="5.00" fill="#202020" fill-opacity="0.25"/>
<rect x="373.0" y="319.25" width="13.5" height="4.50" fill="#202020" fill-opacity="0.25"/>
<rect x="386.5" y="318.70" width="13.5" height="5.00" fill="#202020" fill-opacity="0.25"/>
<rect x="401.8" y="317.30" width="5.7" height="4.60" fill="#202020" fill-opacity="0.24"/>
<rect x="407.0" y="316.30" width="5.8" height="4.40" fill="#202020" fill-opacity="0.24"/>
<rect x="414.7" y="316.35" width="11.1" height="3.50" fill="#202020" fill-opacity="0.15"/>
<rect x="427.6" y="315.55" width="11.1" height="4.50" fill="#202020" fill-opacity="0.24"/>
<rect x="440.5" y="315.75" width="12.3" height="3.50" fill="#202020" fill-opacity="0.15"/>
</g>
<g filter="url(#bl)">
<rect x="220.2" y="269.58" width="11.7" height="1.44" rx="0.72" fill="#0e0e0e" fill-opacity="0.45"/>
<rect x="220.2" y="276.58" width="11.7" height="2.64" rx="1.32" fill="#0e0e0e" fill-opacity="0.85"/>
<rect x="220.2" y="279.54" width="11.7" height="3.12" rx="1.50" fill="#0e0e0e" fill-opacity="0.95"/>
<rect x="233.2" y="269.40" width="11.2" height="1.80" rx="0.90" fill="#0e0e0e" fill-opacity="0.7"/>
<rect x="233.2" y="276.58" width="11.2" height="2.64" rx="1.32" fill="#0e0e0e" fill-opacity="0.85"/>
<rect x="233.2" y="279.54" width="11.2" height="3.12" rx="1.50" fill="#0e0e0e" fill-opacity="0.95"/>
<rect x="247.0" y="276.24" width="10.8" height="1.92" rx="0.96" fill="#0e0e0e" fill-opacity="0.35"/>
<rect x="247.0" y="278.74" width="10.8" height="3.12" rx="1.50" fill="#0e0e0e" fill-opacity="0.9"/>
<rect x="259.7" y="268.30" width="12.1" height="2.40" rx="1.20" fill="#0e0e0e" fill-opacity="0.75"/>
<rect x="259.7" y="275.48" width="12.1" height="2.64" rx="1.32" fill="#0e0e0e" fill-opacity="0.9"/>
<rect x="259.7" y="278.42" width="12.1" height="1.56" rx="0.78" fill="#0e0e0e" fill-opacity="0.45"/>
<rect x="274.4" y="271.60" width="12.1" height="1.80" rx="0.90" fill="#0e0e0e" fill-opacity="0.3"/>
<rect x="274.4" y="275.12" width="12.1" height="2.16" rx="1.08" fill="#0e0e0e" fill-opacity="0.6"/>
<rect x="274.4" y="277.56" width="12.1" height="2.88" rx="1.44" fill="#0e0e0e" fill-opacity="0.85"/>
<rect x="288.3" y="275.22" width="8.7" height="1.56" rx="0.78" fill="#0e0e0e" fill-opacity="0.3"/>
<rect x="288.3" y="277.42" width="9.2" height="2.76" rx="1.38" fill="#0e0e0e" fill-opacity="0.85"/>
<rect x="299.7" y="268.00" width="12.1" height="3.00" rx="1.50" fill="#0e0e0e" fill-opacity="0.9"/>
<rect x="299.7" y="275.30" width="12.1" height="3.00" rx="1.50" fill="#0e0e0e" fill-opacity="0.9"/>
<rect x="299.7" y="277.76" width="12.1" height="4.08" rx="1.50" fill="#0e0e0e" fill-opacity="1"/>
<rect x="313.1" y="268.18" width="11.3" height="2.64" rx="1.32" fill="#0e0e0e" fill-opacity="0.85"/>
<rect x="313.1" y="275.10" width="11.3" height="2.40" rx="1.20" fill="#0e0e0e" fill-opacity="0.85"/>
<rect x="313.1" y="278.20" width="11.3" height="3.00" rx="1.50" fill="#0e0e0e" fill-opacity="0.95"/>
<rect x="326.5" y="274.60" width="10.0" height="1.80" rx="0.90" fill="#0e0e0e" fill-opacity="0.5"/>
<rect x="326.5" y="276.50" width="10.0" height="1.80" rx="0.90" fill="#0e0e0e" fill-opacity="0.5"/>
<rect x="346.6" y="270.08" width="13.0" height="1.44" rx="0.72" fill="#0e0e0e" fill-opacity="0.3"/>
<rect x="346.6" y="278.20" width="13.0" height="2.40" rx="1.20" fill="#0e0e0e" fill-opacity="0.85"/>
<rect x="346.6" y="280.50" width="13.0" height="3.00" rx="1.50" fill="#0e0e0e" fill-opacity="0.95"/>
<rect x="361.3" y="278.16" width="10.8" height="1.68" rx="0.84" fill="#0e0e0e" fill-opacity="0.35"/>
<rect x="361.3" y="280.00" width="10.8" height="2.40" rx="1.20" fill="#0e0e0e" fill-opacity="0.75"/>
<rect x="376.0" y="268.34" width="8.5" height="3.12" rx="1.50" fill="#0e0e0e" fill-opacity="0.6"/>
<rect x="375.5" y="275.96" width="10.3" height="1.68" rx="0.84" fill="#0e0e0e" fill-opacity="0.2"/>
<rect x="375.5" y="278.16" width="10.3" height="1.68" rx="0.84" fill="#0e0e0e" fill-opacity="0.2"/>
<rect x="388.0" y="269.28" width="12.5" height="1.44" rx="0.72" fill="#0e0e0e" fill-opacity="0.3"/>
<rect x="388.0" y="275.40" width="12.5" height="2.40" rx="1.20" fill="#0e0e0e" fill-opacity="0.65"/>
<rect x="388.0" y="277.90" width="12.5" height="3.00" rx="1.50" fill="#0e0e0e" fill-opacity="0.85"/>
<rect x="403.0" y="275.54" width="9.7" height="1.92" rx="0.96" fill="#0e0e0e" fill-opacity="0.18"/>
<rect x="415.0" y="275.54" width="10.0" height="1.92" rx="0.96" fill="#0e0e0e" fill-opacity="0.15"/>
<rect x="428.0" y="275.54" width="10.0" height="1.92" rx="0.96" fill="#0e0e0e" fill-opacity="0.15"/>
<rect x="220.6" y="298.54" width="11.3" height="1.92" rx="0.96" fill="#0e0e0e" fill-opacity="0.95"/>
<rect x="220.6" y="301.76" width="11.3" height="1.68" rx="0.84" fill="#0e0e0e" fill-opacity="0.3"/>
<rect x="234.0" y="298.72" width="11.3" height="2.16" rx="1.08" fill="#0e0e0e" fill-opacity="0.95"/>
<rect x="234.0" y="301.68" width="11.3" height="2.64" rx="1.32" fill="#0e0e0e" fill-opacity="1"/>
<rect x="247.9" y="298.78" width="9.5" height="1.44" rx="0.72" fill="#0e0e0e" fill-opacity="0.3"/>
<rect x="259.3" y="297.80" width="13.0" height="1.80" rx="0.90" fill="#0e0e0e" fill-opacity="0.4"/>
<rect x="259.3" y="301.04" width="13.0" height="3.12" rx="1.50" fill="#0e0e0e" fill-opacity="1"/>
<rect x="274.5" y="298.58" width="11.5" height="1.44" rx="0.72" fill="#0e0e0e" fill-opacity="0.15"/>
<rect x="287.0" y="298.58" width="9.0" height="1.44" rx="0.72" fill="#0e0e0e" fill-opacity="0.12"/>
<rect x="297.0" y="297.90" width="12.2" height="2.40" rx="1.20" fill="#0e0e0e" fill-opacity="0.95"/>
<rect x="297.0" y="301.40" width="12.2" height="2.40" rx="1.20" fill="#0e0e0e" fill-opacity="0.95"/>
<rect x="311.0" y="298.22" width="10.4" height="1.56" rx="0.78" fill="#0e0e0e" fill-opacity="0.35"/>
<rect x="311.0" y="301.70" width="10.4" height="1.80" rx="0.90" fill="#0e0e0e" fill-opacity="0.45"/>
<rect x="324.0" y="302.10" width="8.6" height="3.60" rx="1.50" fill="#0e0e0e" fill-opacity="0.5"/>
<rect x="345.8" y="299.20" width="11.2" height="2.40" rx="1.20" fill="#0e0e0e" fill-opacity="1"/>
<rect x="345.8" y="303.00" width="11.2" height="1.80" rx="0.90" fill="#0e0e0e" fill-opacity="0.35"/>
<rect x="361.8" y="300.70" width="9.5" height="2.40" rx="1.20" fill="#0e0e0e" fill-opacity="0.85"/>
<rect x="374.3" y="304.58" width="10.0" height="3.84" rx="1.50" fill="#0e0e0e" fill-opacity="0.8"/>
<rect x="387.5" y="300.10" width="12.1" height="2.40" rx="1.20" fill="#0e0e0e" fill-opacity="1"/>
<rect x="387.5" y="303.58" width="12.1" height="1.44" rx="0.72" fill="#0e0e0e" fill-opacity="0.3"/>
<rect x="401.7" y="297.20" width="11.7" height="3.00" rx="1.50" fill="#0e0e0e" fill-opacity="0.65"/>
<rect x="414.6" y="297.30" width="11.7" height="3.60" rx="1.50" fill="#0e0e0e" fill-opacity="0.8"/>
<rect x="428.0" y="297.54" width="10.4" height="3.12" rx="1.50" fill="#0e0e0e" fill-opacity="0.8"/>
<rect x="439.7" y="297.96" width="12.1" height="4.08" rx="1.50" fill="#0e0e0e" fill-opacity="0.9"/>
<rect x="218.7" y="319.70" width="13.8" height="3.00" rx="1.50" fill="#0e0e0e" fill-opacity="1"/>
<rect x="232.5" y="319.60" width="13.0" height="2.60" rx="1.30" fill="#0e0e0e" fill-opacity="1"/>
<rect x="246.5" y="319.90" width="12.0" height="2.20" rx="1.10" fill="#0e0e0e" fill-opacity="0.95"/>
<rect x="259.0" y="319.40" width="13.0" height="2.40" rx="1.20" fill="#0e0e0e" fill-opacity="0.95"/>
<rect x="272.5" y="319.25" width="13.0" height="2.50" rx="1.25" fill="#0e0e0e" fill-opacity="0.95"/>
<rect x="285.5" y="318.90" width="11.5" height="2.20" rx="1.10" fill="#0e0e0e" fill-opacity="0.95"/>
<rect x="297.0" y="319.80" width="13.0" height="4.00" rx="1.50" fill="#0e0e0e" fill-opacity="1"/>
<rect x="310.0" y="320.00" width="13.0" height="3.00" rx="1.50" fill="#0e0e0e" fill-opacity="1"/>
<rect x="323.0" y="319.70" width="10.0" height="1.60" rx="0.80" fill="#0e0e0e" fill-opacity="0.7"/>
<rect x="345.5" y="321.00" width="14.2" height="4.00" rx="1.50" fill="#0e0e0e" fill-opacity="1"/>
<rect x="360.0" y="320.90" width="13.0" height="3.00" rx="1.50" fill="#0e0e0e" fill-opacity="1"/>
<rect x="373.0" y="320.25" width="13.5" height="2.50" rx="1.25" fill="#0e0e0e" fill-opacity="1"/>
<rect x="386.5" y="319.70" width="13.5" height="3.00" rx="1.50" fill="#0e0e0e" fill-opacity="1"/>
<rect x="401.8" y="318.30" width="5.7" height="2.60" rx="1.30" fill="#0e0e0e" fill-opacity="0.95"/>
<rect x="407.0" y="317.30" width="5.8" height="2.40" rx="1.20" fill="#0e0e0e" fill-opacity="0.95"/>
<rect x="414.7" y="317.35" width="11.1" height="1.50" rx="0.75" fill="#0e0e0e" fill-opacity="0.6"/>
<rect x="427.6" y="316.55" width="11.1" height="2.50" rx="1.25" fill="#0e0e0e" fill-opacity="0.95"/>
<rect x="440.5" y="316.75" width="12.3" height="1.50" rx="0.75" fill="#0e0e0e" fill-opacity="0.6"/>
</g>
<path d="M331.5 320.8Q335.5 320.4 336.6 316Q337.4 313 338.6 311" fill="none" stroke="#333" stroke-width="1" opacity="0.85"/>
<path d="M445.3 287L448.5 281Q451 276.5 451.8 274.5L453.2 270.5" fill="none" stroke="#222" stroke-width="1" opacity="0.85"/>
<path d="M331 285L337.5 272" fill="none" stroke="#d0d0d0" stroke-width="1.5" opacity="0.4"/>
<path d="M461 276.4H467.1" stroke="#111" stroke-width="1.4"/>
<path d="M455.8 276.4L463.2 273.29999999999995L462.3 276.4L463.2 279.5Z" fill="#111" stroke="#111" stroke-width="0.4" stroke-linejoin="round"/>
<path d="M461 305.2H467.1" stroke="#111" stroke-width="1.4"/>
<path d="M455.8 305.2L463.2 302.09999999999997L462.3 305.2L463.2 308.3Z" fill="#111" stroke="#111" stroke-width="0.4" stroke-linejoin="round"/>
<path d="M461 316.7H467.1" stroke="#111" stroke-width="1.4"/>
<path d="M455.8 316.7L463.2 313.59999999999997L462.3 316.7L463.2 319.8Z" fill="#111" stroke="#111" stroke-width="0.4" stroke-linejoin="round"/>
<path d="M455.8 299.7L463.2 296.59999999999997L462.3 299.7L463.2 302.8Z" fill="#111" stroke="#111" stroke-width="0.4" stroke-linejoin="round"/>
<path d="M461 299.7H463.6Q464.9 299.7 464.9 298.4V295.1Q464.9 293.8 466.2 293.8H467" fill="none" stroke="#111" stroke-width="1.4"/>
<text x="468.9" y="279.5" font-size="7.5" textLength="43" lengthAdjust="spacingAndGlyphs">Total-SPHK1</text>
<text x="468.9" y="296.2" font-size="7.5" textLength="39.2" lengthAdjust="spacingAndGlyphs">non specific</text>
<text x="468.9" y="307.4" font-size="7.5" textLength="30.5" lengthAdjust="spacingAndGlyphs">p-SPHK1</text>
<text x="469" y="318.9" font-size="7.2" textLength="19.3" lengthAdjust="spacingAndGlyphs">ACTB</text>
<path d="M217.5 338.4V382.6H337M346.3 382.6H449.4" fill="none" stroke="#111" stroke-width="1.2"/>
<path d="M214 341.2H217.5" stroke="#111" stroke-width="1.1"/>
<text x="211.6" y="343.5" font-size="6.7" text-anchor="end">0.8</text>
<path d="M214 351.7H217.5" stroke="#111" stroke-width="1.1"/>
<text x="211.6" y="354.0" font-size="6.7" text-anchor="end">0.6</text>
<path d="M214 362.2H217.5" stroke="#111" stroke-width="1.1"/>
<text x="211.6" y="364.5" font-size="6.7" text-anchor="end">0.4</text>
<path d="M214 372.5H217.5" stroke="#111" stroke-width="1.1"/>
<text x="211.6" y="374.8" font-size="6.7" text-anchor="end">0.2</text>
<path d="M214 382.8H217.5" stroke="#111" stroke-width="1.1"/>
<text x="211.6" y="385.1" font-size="6.7" text-anchor="end">0.0</text>
<text transform="translate(197.6,384.6) rotate(-90)" font-size="8.8" textLength="44.6" lengthAdjust="spacingAndGlyphs">SPHK1/ACTB</text>
<rect x="219.5" y="356.6" width="9.90" height="25.40" fill="#2a4a86"/>
<rect x="232.9" y="354.5" width="10.00" height="27.50" fill="#2a4a86"/>
<rect x="246" y="356.8" width="10.00" height="25.20" fill="#2a4a86"/>
<rect x="259.5" y="348.3" width="9.50" height="33.70" fill="#2a4a86"/>
<rect x="272.7" y="354.6" width="9.20" height="27.40" fill="#2a4a86"/>
<rect x="285.6" y="364.8" width="9.60" height="17.20" fill="#2a4a86"/>
<rect x="298.8" y="344.8" width="9.90" height="37.20" fill="#2a4a86"/>
<rect x="312" y="349.1" width="9.90" height="32.90" fill="#2a4a86"/>
<rect x="325" y="356.8" width="9.80" height="25.20" fill="#2a4a86"/>
<rect x="347.5" y="353.7" width="10.00" height="28.30" fill="#2a4a86"/>
<rect x="360.8" y="365" width="9.80" height="17.00" fill="#2a4a86"/>
<rect x="374" y="368.1" width="9.60" height="13.90" fill="#2a4a86"/>
<rect x="387.1" y="362.1" width="9.40" height="19.90" fill="#2a4a86"/>
<path d="M399.5 382V378.5H409.5V382" fill="#fff" stroke="#7a2a42" stroke-width="1.05"/>
<path d="M412.5 382V375.5H422.5V382" fill="#fff" stroke="#7a2a42" stroke-width="1.05"/>
<path d="M425.5 382V378.5H435.5V382" fill="#fff" stroke="#7a2a42" stroke-width="1.05"/>
<path d="M438.5 382V371.5H448.5V382" fill="#fff" stroke="#7a2a42" stroke-width="1.05"/>
<rect x="0" y="0" width="520" height="1" fill="#000"/>
<rect x="0" y="1" width="520" height="1" fill="#000" fill-opacity="0.3"/>
<rect x="0" y="0" width="1" height="394" fill="#000"/>
<rect x="1" y="0" width="1" height="394" fill="#000" fill-opacity="0.5"/>
<rect x="519" y="0" width="1" height="394" fill="#000"/>
<rect x="518" y="0" width="1" height="394" fill="#000" fill-opacity="0.6"/>
<rect x="0" y="393" width="520" height="1" fill="#000"/>
<rect x="0" y="392" width="520" height="1" fill="#000" fill-opacity="0.75"/>
</svg>
</body></html>
